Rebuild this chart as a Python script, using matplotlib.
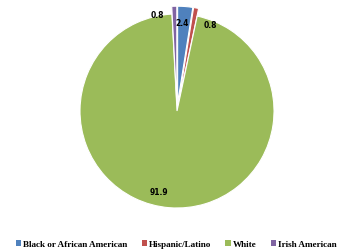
import numpy as np
import matplotlib
matplotlib.use('Agg')
import matplotlib.pyplot as plt
from matplotlib.patches import Patch

# data
categories = ['Black or African American', 'Hispanic/Latino', 'White', 'Irish American']
values = [2.4, 0.8, 91.9, 0.8]
colors = ['#4F81BD', '#C0504D', '#9BBB59', '#8064A2']
explode = [0.08, 0.08, 0.0, 0.08]
# label radius (fraction of pie radius), angle nudge in degrees
label_r = [0.9, 0.95, 0.86, 1.0]
label_nudge = [1, -11, -8, 10]

fig = plt.figure(figsize=(3.41, 2.52), dpi=100)
ax = fig.add_axes([0.2346, 0.1746, 0.569, 0.770])

wedges, _ = ax.pie(values, colors=colors, startangle=90, counterclock=False,
                   explode=explode, radius=1.0,
                   wedgeprops=dict(edgecolor='white', linewidth=0.8))
ax.set_xlim(-1, 1)
ax.set_ylim(-1, 1)
ax.set_aspect('equal')

for w, v, r, nd in zip(wedges, values, label_r, label_nudge):
    mid = np.deg2rad((w.theta1 + w.theta2) / 2 + nd)
    ax.text(r * np.cos(mid), r * np.sin(mid), f'{v}', ha='center', va='center',
            fontsize=5.5, fontweight='bold', color='black', family='DejaVu Sans')

handles = [Patch(facecolor=c, edgecolor='none') for c in colors]
fig.legend(handles, categories, loc='lower left', bbox_to_anchor=(0.022, -0.019),
           ncol=4, frameon=False, handlelength=0.55, handleheight=0.6,
           handletextpad=0.25, columnspacing=1.55,
           prop=dict(family='Liberation Serif', weight='bold', size=6.6))

fig.savefig('out.png', dpi=100)
